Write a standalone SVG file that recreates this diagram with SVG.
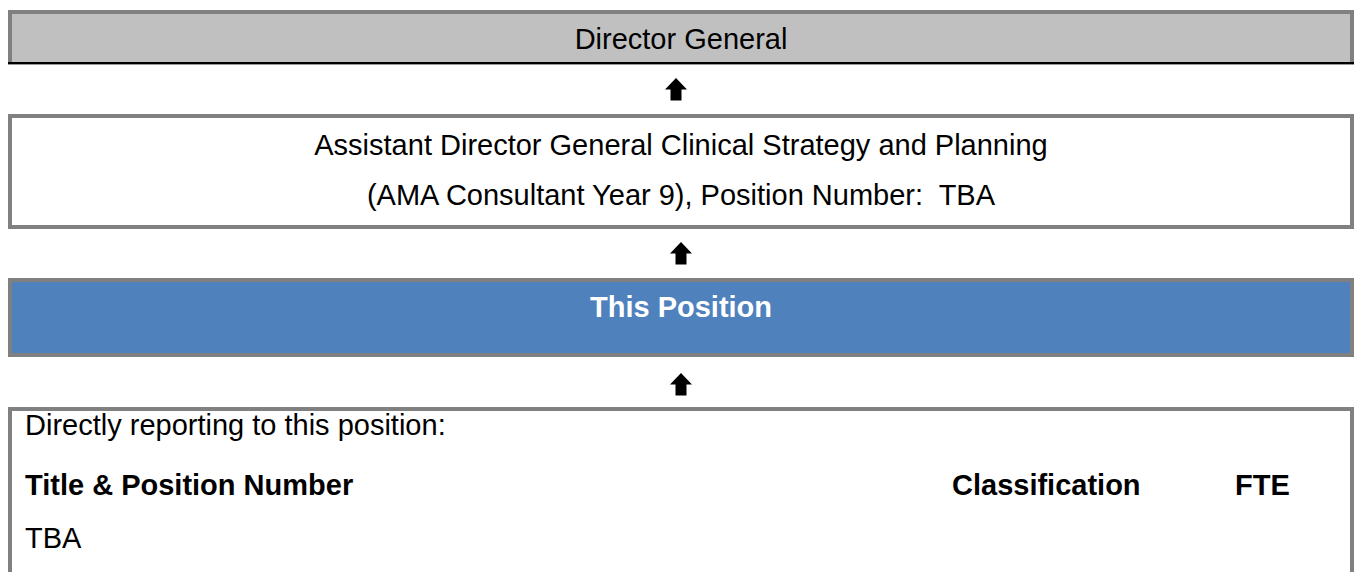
<svg xmlns="http://www.w3.org/2000/svg" xmlns:xlink="http://www.w3.org/1999/xlink" width="1358" height="572" viewBox="0 0 1358 572">
  <style>
    .frame { stroke: #808080; stroke-width: 4; }
    .open { fill: none; }
    .plain { fill: #ffffff; }
    .blue { fill: #4f81bd; }
    .txt { font-family: "Liberation Sans", Arial, sans-serif; font-size: 29px; fill: #000000; }
    .ctr { text-anchor: middle; }
    .bold { font-weight: bold; }
    .white { fill: #ffffff; }
    .arrow { fill: #000000; }
  </style>
  <defs>
    <!-- upward block arrow, tip at origin -->
    <path id="up-arrow" d="M0 0 L11 11.5 L5.5 11.5 L5.5 22.5 L-5.5 22.5 L-5.5 11.5 L-11 11.5 Z"/>
  </defs>
  <rect width="1358" height="572" fill="#ffffff"/>

  <!-- Director General -->
  <g id="director-general">
    <rect x="8" y="10" width="1346" height="54" fill="#c0c0c0"/>
    <path d="M10 63 V12 H1352 V63" class="frame open"/>
    <rect x="8" y="62" width="1346" height="2.4" fill="#000000"/>
    <text x="681" y="49" class="txt ctr">Director General</text>
  </g>

  <!-- Assistant Director General -->
  <g id="assistant-director-general">
    <rect x="10" y="116" width="1342" height="111" class="frame plain"/>
    <text x="681" y="155" class="txt ctr">Assistant Director General Clinical Strategy and Planning</text>
    <text x="681" y="205" class="txt ctr" xml:space="preserve">(AMA Consultant Year 9), Position Number:  TBA</text>
  </g>

  <!-- This Position -->
  <g id="this-position">
    <rect x="10" y="280" width="1342" height="75" class="frame blue"/>
    <text x="681" y="317" class="txt ctr bold white">This Position</text>
  </g>

  <!-- Direct reports -->
  <g id="direct-reports">
    <path d="M10 580 V409 H1352 V580" class="frame plain"/>
    <text x="25" y="435" class="txt">Directly reporting to this position:</text>
    <text x="25" y="495" class="txt bold">Title &amp; Position Number</text>
    <text x="952" y="495" class="txt bold">Classification</text>
    <text x="1235" y="495" class="txt bold">FTE</text>
    <text x="25" y="548" class="txt">TBA</text>
  </g>

  <!-- reporting lines -->
  <g id="connectors" class="arrow">
    <use xlink:href="#up-arrow" href="#up-arrow" x="676" y="78"/>
    <use xlink:href="#up-arrow" href="#up-arrow" x="681" y="242"/>
    <use xlink:href="#up-arrow" href="#up-arrow" x="681" y="373"/>
  </g>
</svg>
